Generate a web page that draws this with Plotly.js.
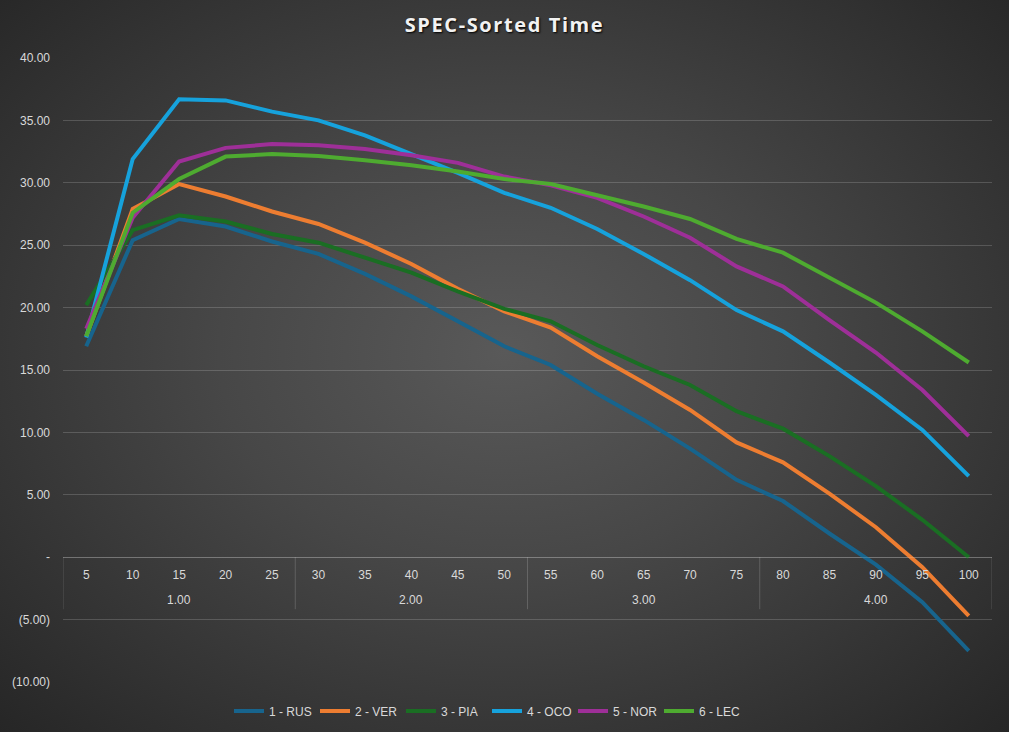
<!DOCTYPE html>
<html>
<head>
<meta charset="utf-8">
<script src="https://cdn.plot.ly/plotly-3.0.1.min.js"></script>
<style>
html,body{margin:0;padding:0;background:#2b2b2b;}
#chart{width:1009px;height:732px;background:radial-gradient(ellipse at 50% 48%, #595959 0%, #474747 40%, #313131 80%, #262626 100%);}
#chart .gtitle{letter-spacing:1.6px;}
</style>
</head>
<body>
<div id="chart"></div>
<script>
const groups = ['1.00','1.00','1.00','1.00','1.00','2.00','2.00','2.00','2.00','2.00','3.00','3.00','3.00','3.00','3.00','4.00','4.00','4.00','4.00','4.00'];
const laps = ['5','10','15','20','25','30','35','40','45','50','55','60','65','70','75','80','85','90','95','100'];

const seriesNames = ['1 - RUS','2 - VER','3 - PIA','4 - OCO','5 - NOR','6 - LEC'];
const seriesColors = ['#17648d','#ed7d31','#1a6e23','#16a2dc','#9e2f98','#4eab30'];

const rus = [16.9,25.4,27.1,26.5,25.3,24.3,22.7,20.9,18.9,16.9,15.4,13.1,11.0,8.7,6.2,4.5,1.9,-0.6,-3.6,-7.5];
const ver = [17.7,27.9,29.9,28.9,27.7,26.7,25.2,23.5,21.5,19.7,18.4,16.1,14.0,11.8,9.2,7.6,5.1,2.4,-0.8,-4.7];
const pia = [20.2,26.2,27.4,26.9,25.9,25.2,24.0,22.8,21.3,19.9,18.9,17.0,15.3,13.8,11.7,10.3,8.1,5.7,3.0,0.0];
const oco = [17.6,31.9,36.7,36.6,35.7,35.0,33.8,32.3,30.8,29.2,28.0,26.3,24.3,22.2,19.8,18.1,15.6,13.0,10.2,6.5];
const nor = [18.3,27.2,31.7,32.8,33.1,33.0,32.7,32.2,31.6,30.5,29.8,28.8,27.3,25.6,23.3,21.7,19.0,16.4,13.4,9.7];
const lec = [17.7,27.6,30.3,32.1,32.3,32.15,31.8,31.4,30.9,30.3,29.9,29.0,28.1,27.1,25.5,24.4,22.4,20.4,18.1,15.6];

const yTickVals = [-10,-5,0,5,10,15,20,25,30,35,40];
const yTickText = ['(10.00)','(5.00)','-','5.00','10.00','15.00','20.00','25.00','30.00','35.00','40.00'];

const allSeries = [rus, ver, pia, oco, nor, lec];
const yMin = -10, yMax = 40;

const W = 1009, H = 732;
const M = {l: 63, r: 17, t: 58, b: 0, autoexpand: false};
const plotH = H - M.t - M.b;
const plotW = W - M.l - M.r;
const yDomStart = 50 / plotH;
const zeroPos = yDomStart + (1 - yDomStart) * (0 - yMin) / (yMax - yMin);

const traces = allSeries.map((vals, i) => ({
  type: 'scatter',
  mode: 'lines',
  name: seriesNames[i],
  x: laps,
  y: vals,
  line: {color: seriesColors[i], width: 4},
  hoverinfo: 'skip'
}));

const textColor = '#d9d9d9';
const gridColor = 'rgba(255,255,255,0.17)';

// group labels and dividers derived from the groups array
const uniqueGroups = [...new Set(groups)];
const annotations = uniqueGroups.map(g => {
  const first = groups.indexOf(g), last = groups.lastIndexOf(g);
  return {
    text: g, xref: 'x', yref: 'paper',
    x: (first + last) / 2, y: zeroPos, yanchor: 'middle', yshift: -43,
    showarrow: false, font: {size: 12, color: textColor}
  };
});
const boundaries = [-0.5];
uniqueGroups.forEach(g => boundaries.push(groups.lastIndexOf(g) + 0.5));
const divLen = 52 / plotH;
const shapes = boundaries.map(b => ({
  type: 'line', xref: 'x', yref: 'paper',
  x0: b, x1: b, y0: zeroPos, y1: zeroPos - divLen,
  line: {color: gridColor, width: 1}, layer: 'below'
}));

const layout = {
  width: W,
  height: H,
  paper_bgcolor: 'rgba(0,0,0,0)',
  plot_bgcolor: 'rgba(0,0,0,0)',
  margin: M,
  title: {
    text: 'SPEC-Sorted Time',
    x: 0.5, xanchor: 'center',
    y: 0.966, yanchor: 'middle',
    font: {family: 'Open Sans, Liberation Sans, sans-serif', size: 20, color: '#f2f2f2', weight: 'bold', shadow: '1px 1px 2px #000'}
  },
  font: {family: 'Liberation Sans, Arial, sans-serif', size: 12, color: textColor},
  xaxis: {
    type: 'category',
    categoryorder: 'array',
    categoryarray: laps,
    range: [-0.5, laps.length - 0.5],
    anchor: 'free',
    position: zeroPos,
    showgrid: false,
    showline: true,
    linecolor: gridColor,
    linewidth: 1,
    ticks: '',
    ticklabelstandoff: 6,
    tickfont: {size: 12, color: textColor},
    zeroline: false
  },
  yaxis: {
    domain: [yDomStart, 1],
    range: [yMin, yMax],
    tickvals: yTickVals,
    ticktext: yTickText,
    showgrid: true,
    gridcolor: gridColor,
    gridwidth: 1,
    zeroline: true,
    zerolinecolor: gridColor,
    zerolinewidth: 1,
    showline: false,
    ticks: '',
    ticklabelstandoff: 12,
    tickfont: {size: 12, color: textColor}
  },
  annotations: annotations,
  shapes: shapes,
  showlegend: true,
  legend: {
    orientation: 'h',
    x: (487 - M.l) / plotW, xanchor: 'center',
    y: 21 / plotH, yanchor: 'middle',
    font: {size: 12, color: textColor},
    bgcolor: 'rgba(0,0,0,0)',
    entrywidth: 41,
    tracegroupgap: 0
  }
};

Plotly.newPlot('chart', traces, layout, {displayModeBar: false, staticPlot: true});
</script>
</body>
</html>
